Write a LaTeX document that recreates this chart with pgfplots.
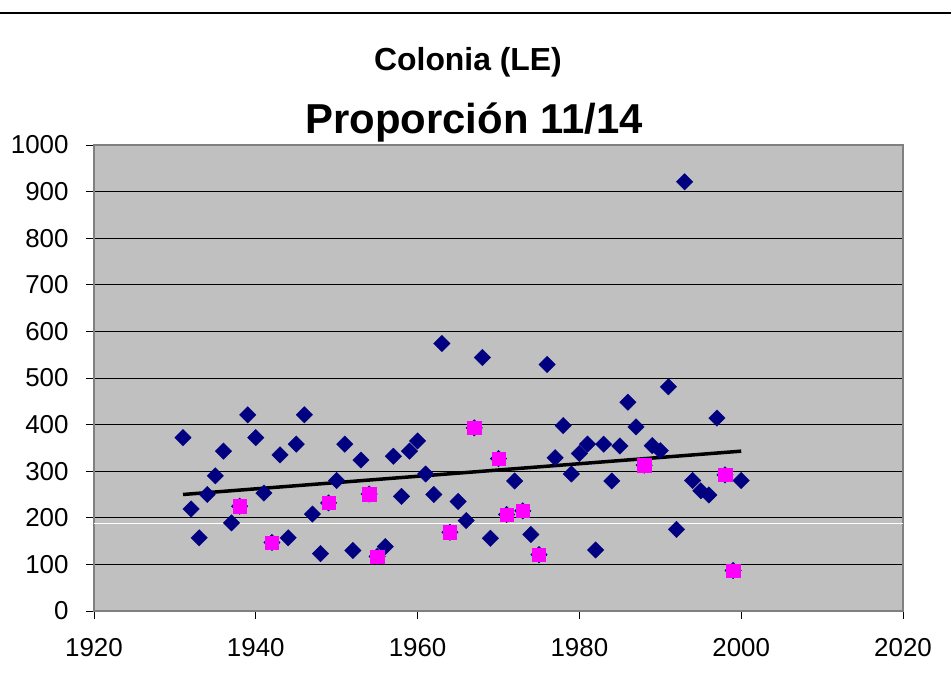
\documentclass[border=0pt]{standalone}
\usepackage{fontspec}
\setmainfont{Liberation Sans}
\usepackage{pgfplots}
\pgfplotsset{compat=1.18}
\definecolor{plotgray}{RGB}{192,192,192}
\definecolor{framegray}{RGB}{128,128,128}
\definecolor{navy}{RGB}{0,0,128}
\definecolor{magentapink}{RGB}{255,0,255}

% all years
\pgfplotstableread{
year value
1931 372
1932 219
1933 157
1934 250
1935 290
1936 343
1937 189
1938 225
1939 421
1940 372
1941 253
1942 147
1943 335
1944 157
1945 358
1946 421
1947 208
1948 123
1949 232
1950 280
1951 358
1952 130
1953 324
1954 251
1955 117
1956 138
1957 332
1958 246
1959 343
1960 365
1961 294
1962 250
1963 574
1964 169
1965 235
1966 194
1967 393
1968 544
1969 156
1970 327
1971 207
1972 279
1973 215
1974 164
1975 121
1976 529
1977 329
1978 398
1979 294
1980 338
1981 358
1982 131
1983 358
1984 279
1985 354
1986 448
1987 395
1988 313
1989 355
1990 344
1991 481
1992 175
1993 921
1994 280
1995 258
1996 249
1997 414
1998 292
1999 87
2000 280
}\alldata

% highlighted years
\pgfplotstableread{
year value
1938 225
1942 147
1949 232
1954 251
1955 117
1964 169
1967 393
1970 327
1971 207
1973 215
1975 121
1988 313
1998 292
1999 87
}\pinkdata

\begin{document}
\begin{tikzpicture}[x=1bp,y=1bp]
\useasboundingbox (-94,-76) rectangle (857,611);
\begin{axis}[
    at={(0,0)}, anchor=south west,
    scale only axis,
    width=809bp, height=466bp,
    xmin=1920, xmax=2020,
    ymin=0, ymax=1000,
    xtick={1920,1940,...,2020},
    ytick={0,100,...,1000},
    axis background/.style={fill=plotgray},
    axis line style={framegray, line width=1.2bp},
    ymajorgrids,
    major grid style={black, line width=0.8bp},
    tick align=outside,
    major tick length=8bp,
    tick style={black, line width=0.8bp},
    tick pos=left,
    ticklabel style={font=\fontsize{26}{26}\selectfont},
    xticklabel style={yshift=-16bp},
    yticklabel style={xshift=-14bp},
    /pgf/number format/assume math mode=true,
    /pgf/number format/1000 sep={},
]
\addplot[white, line width=1.5bp, forget plot] coordinates {(1920,188) (2020,188)};
\addplot[only marks, mark=square*, mark size=5.8bp,
    mark options={rotate=45, fill=navy, draw=navy}] table[x=year, y=value] {\alldata};
\addplot[black, line width=3.5bp] coordinates {(1931,250) (2000,343)};
\addplot[only marks, mark=square*, mark size=6.7bp,
    mark options={fill=magentapink, draw=magentapink}] table[x=year, y=value] {\pinkdata};
\end{axis}
\node[anchor=base, font=\bfseries\fontsize{32}{32}\selectfont] at (374,540) {Colonia (LE)};
\node[anchor=base, font=\bfseries\fontsize{42}{42}\selectfont] at (380,477) {Proporción 11/14};
\draw[line width=2bp] (-94,598) -- (857,598);
\end{tikzpicture}
\end{document}
